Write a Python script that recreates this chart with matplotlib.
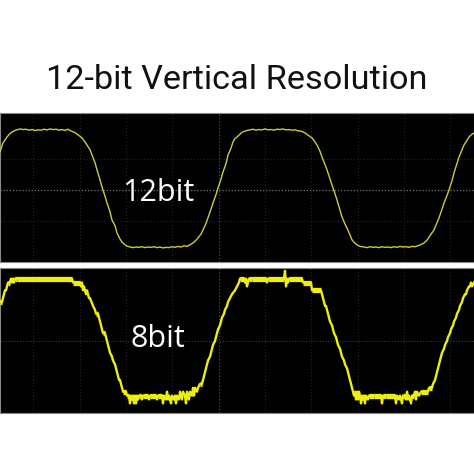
import numpy as np
import matplotlib
matplotlib.use('Agg')
import matplotlib.pyplot as plt

# 12-bit capture: time (screen samples) and level (divisions)
t12 = [0, 3, 7, 10, 12, 15, 18, 20, 23, 26, 29, 32, 35, 38, 41, 44, 47, 50, 53,
       56, 59, 62, 65, 68, 70, 73, 75, 78, 82, 85, 87, 90, 92, 95, 97, 100, 102,
       105, 107, 110, 112, 115, 117, 120, 122, 125, 127, 130, 133, 136, 139, 142,
       145, 148, 151, 154, 157, 160, 163, 166, 169, 172, 175, 178, 181, 184, 187,
       190, 193, 196, 198, 201, 203, 206, 208, 211, 213, 216, 218, 221, 223, 226,
       228, 231, 233, 235, 237, 240, 242, 245, 247, 250, 253, 256, 259, 262, 265,
       268, 271, 274, 277, 280, 283, 286, 289, 292, 295, 298, 301, 305, 308, 312,
       315, 317, 320, 322, 325, 327, 330, 332, 335, 337, 340, 342, 345, 347, 350,
       352, 355, 357, 360, 364, 367, 370, 373, 376, 379, 382, 385, 388, 391, 394,
       397, 400, 403, 406, 409, 412, 415, 418, 421, 424, 427, 429, 432, 434, 437,
       439, 442, 444, 447, 449, 452, 454, 457, 459, 462, 464, 467, 469, 472, 474]
v12 = [1.23, 1.52, 1.71, 1.82, 1.87, 1.92, 1.95, 1.97, 1.95, 1.96, 1.93, 1.95,
       1.92, 1.94, 1.93, 1.96, 1.94, 1.97, 1.95, 1.96, 1.93, 1.95, 1.92, 1.96,
       1.92, 1.88, 1.85, 1.78, 1.68, 1.55, 1.45, 1.30, 1.13, 0.88, 0.65, 0.33,
       0.10, -0.20, -0.42, -0.70, -0.97, -1.15, -1.39, -1.58, -1.68, -1.77, -1.81,
       -1.84, -1.86, -1.84, -1.85, -1.83, -1.86, -1.84, -1.85, -1.83, -1.86, -1.84,
       -1.87, -1.85, -1.86, -1.83, -1.85, -1.82, -1.84, -1.80, -1.82, -1.77, -1.71,
       -1.62, -1.55, -1.42, -1.29, -1.08, -0.90, -0.62, -0.42, -0.15, 0.06, 0.35,
       0.58, 0.85, 1.13, 1.35, 1.55, 1.66, 1.71, 1.80, 1.86, 1.90, 1.92, 1.94,
       1.96, 1.93, 1.95, 1.94, 1.97, 1.94, 1.95, 1.93, 1.96, 1.95, 1.97, 1.94,
       1.95, 1.93, 1.94, 1.91, 1.90, 1.84, 1.77, 1.68, 1.55, 1.45, 1.25, 1.06,
       0.82, 0.65, 0.35, 0.16, -0.12, -0.32, -0.65, -0.87, -1.10, -1.23, -1.45,
       -1.61, -1.72, -1.77, -1.82, -1.84, -1.86, -1.83, -1.85, -1.84, -1.86, -1.83,
       -1.85, -1.84, -1.86, -1.83, -1.85, -1.82, -1.84, -1.83, -1.85, -1.82, -1.83,
       -1.80, -1.76, -1.71, -1.62, -1.52, -1.38, -1.29, -1.06, -0.90, -0.62, -0.42,
       -0.18, 0.00, 0.30, 0.55, 0.85, 1.06, 1.30, 1.45, 1.60, 1.71, 1.80, 1.84]

# 8-bit capture: time (screen samples) and ADC code
t8 = [0, 2, 3, 4, 5, 6, 7, 8, 10, 11, 12, 13, 14, 15, 17, 72, 73, 80, 81, 82,
      83, 84, 85, 86, 87, 88, 89, 90, 93, 95, 96, 98, 100, 102, 103, 105, 107,
      108, 110, 112, 113, 115, 116, 117, 118, 119, 120, 121, 122, 123, 126, 127,
      129, 130, 131, 132, 133, 134, 135, 136, 137, 138, 139, 141, 142, 143, 148,
      149, 150, 156, 157, 158, 162, 163, 164, 166, 167, 168, 169, 171, 172, 174,
      175, 176, 177, 179, 180, 182, 183, 185, 186, 187, 189, 190, 192, 193, 194,
      195, 197, 198, 200, 202, 203, 205, 207, 208, 210, 212, 213, 215, 216, 218,
      220, 221, 222, 224, 225, 227, 228, 230, 232, 235, 237, 239, 240, 244, 245,
      246, 247, 248, 249, 252, 266, 267, 268, 284, 285, 286, 287, 288, 289, 302,
      303, 311, 312, 321, 322, 323, 324, 325, 326, 327, 328, 329, 330, 332, 333,
      334, 336, 337, 338, 340, 341, 342, 344, 345, 347, 348, 349, 350, 351, 352,
      353, 354, 355, 356, 357, 358, 359, 360, 361, 362, 363, 364, 365, 366, 368,
      369, 374, 381, 382, 383, 386, 395, 396, 397, 399, 400, 402, 403, 405, 406,
      407, 408, 409, 411, 412, 414, 415, 416, 417, 419, 421, 428, 429, 432, 433,
      435, 436, 437, 438, 440, 441, 442, 444, 445, 447, 448, 450, 451, 453, 454,
      456, 457, 459, 460, 462, 463, 465, 466, 467, 469, 470, 471, 472, 474]
c8 = [10, 10, 11, 12, 13, 13, 14, 15, 15, 16, 15, 16, 15, 16, 16, 16, 15, 15,
      14, 15, 13, 14, 13, 12, 13, 12, 11, 11, 9, 8, 7, 7, 5, 3, 2, 2, 0, -1, -3,
      -4, -5, -6, -7, -8, -9, -10, -10, -11, -12, -13, -13, -14,
      -14, -16, -14, -15, -14, -16, -14, -16, -14, -15, -14, -14, -15, -14, -14,
      -15, -14, -14, -15, -14, -14, -16, -14, -15, -13, -15, -14, -16, -14, -15,
      -14, -16, -14, -15, -13, -15, -13, -14, -16, -13, -15, -13, -14, -12, -14,
      -12, -13, -12, -11, -11, -10, -8, -6, -5, -4, -2, -1, 0, 1, 3,
      4, 5, 6, 7, 8, 9, 10, 11, 12, 13, 14, 15, 16, 16, 15,
      16, 14, 15, 16, 16, 16, 15, 16, 16, 18, 14, 16, 15, 16, 16,
      15, 15, 13, 13, 12, 11, 10, 9, 9, 8, 7, 6, 5, 4, 3,
      2, 1, 0, -1, -2, -3, -4, -5, -6, -7, -8, -9, -10, -11, -12,
      -13, -14, -13, -15, -13, -15, -13, -14, -16, -14, -15, -14, -16, -14, -15,
      -14, -14, -14, -16, -14, -14, -14, -16, -14, -15, -14, -16, -14, -14, -15,
      -13, -15, -14, -16, -14, -14, -13, -15, -13, -14, -13, -13, -12, -12, -11,
      -10, -9, -8, -7, -5, -4, -3, -2, -1, 0, 1, 2, 3, 4, 5,
      6, 7, 8, 9, 10, 11, 12, 12, 13, 14, 14, 15, 14, 15]

title = '12-bit Vertical Resolution'
labels = ['12bit', '8bit']

fig = plt.figure(figsize=(4.74, 4.74), dpi=100)
fig.patch.set_facecolor('white')

ax1 = fig.add_axes([0, 0.4473, 1, 0.3143])
ax2 = fig.add_axes([0, 0.1287, 1, 0.3059])

xgrid = 33.5 + 46.3*np.arange(10)

for ax in (ax1, ax2):
    ax.set_facecolor('black')
    ax.set_xlim(0, 474)
    ax.set_xticks([])
    ax.set_yticks([])
    for s in ax.spines.values():
        s.set_color('#8a8a8a')
        s.set_linewidth(0.8)
    for x in xgrid:
        bright = abs(x - 218.7) < 1
        ax.axvline(x, color='#5a5a5a' if bright else '#262626',
                   lw=0.8, ls=(0, (1, 2)), zorder=1)

ax1.set_ylim(-2.323, 2.484)
ax1.axhline(0, color='#7a7a7a', lw=0.9, ls=(0, (1, 1.5)), zorder=1)
for y in (-1, 1):
    ax1.axhline(y, color='#262626', lw=0.8, ls=(0, (1, 2)), zorder=1)
ax1.plot(t12, v12, color='#cccc3a', lw=1.0, zorder=3)

ax2.set_ylim(-18.46, 18.72)
ax2.axhline(0, color='#3c3c3c', lw=0.8, ls=(0, (1, 1.5)), zorder=1)
ax2.plot(t8, c8, color='#eeee10', lw=1.7, zorder=3)
# held codes show up as thick bars
t8a = np.array(t8)
c8a = np.array(c8)
held = (np.diff(c8a) == 0) & (np.diff(t8a) >= 2)
ax2.hlines(c8a[:-1][held], t8a[:-1][held], t8a[1:][held],
           color='#eeee10', lw=3.8, zorder=3)

ax1.text(158, -0.1, labels[0], color='white', fontsize=22,
         family='Open Sans', ha='center', va='center', zorder=4)
ax2.text(158, 0.4, labels[1], color='white', fontsize=22,
         family='Open Sans', ha='center', va='center', zorder=4)

fig.text(0.5, 1 - 80/474, title, fontsize=24.7, family='Roboto',
         ha='center', va='center', color='#111111')

fig.savefig('out.png', dpi=100, facecolor='white')
